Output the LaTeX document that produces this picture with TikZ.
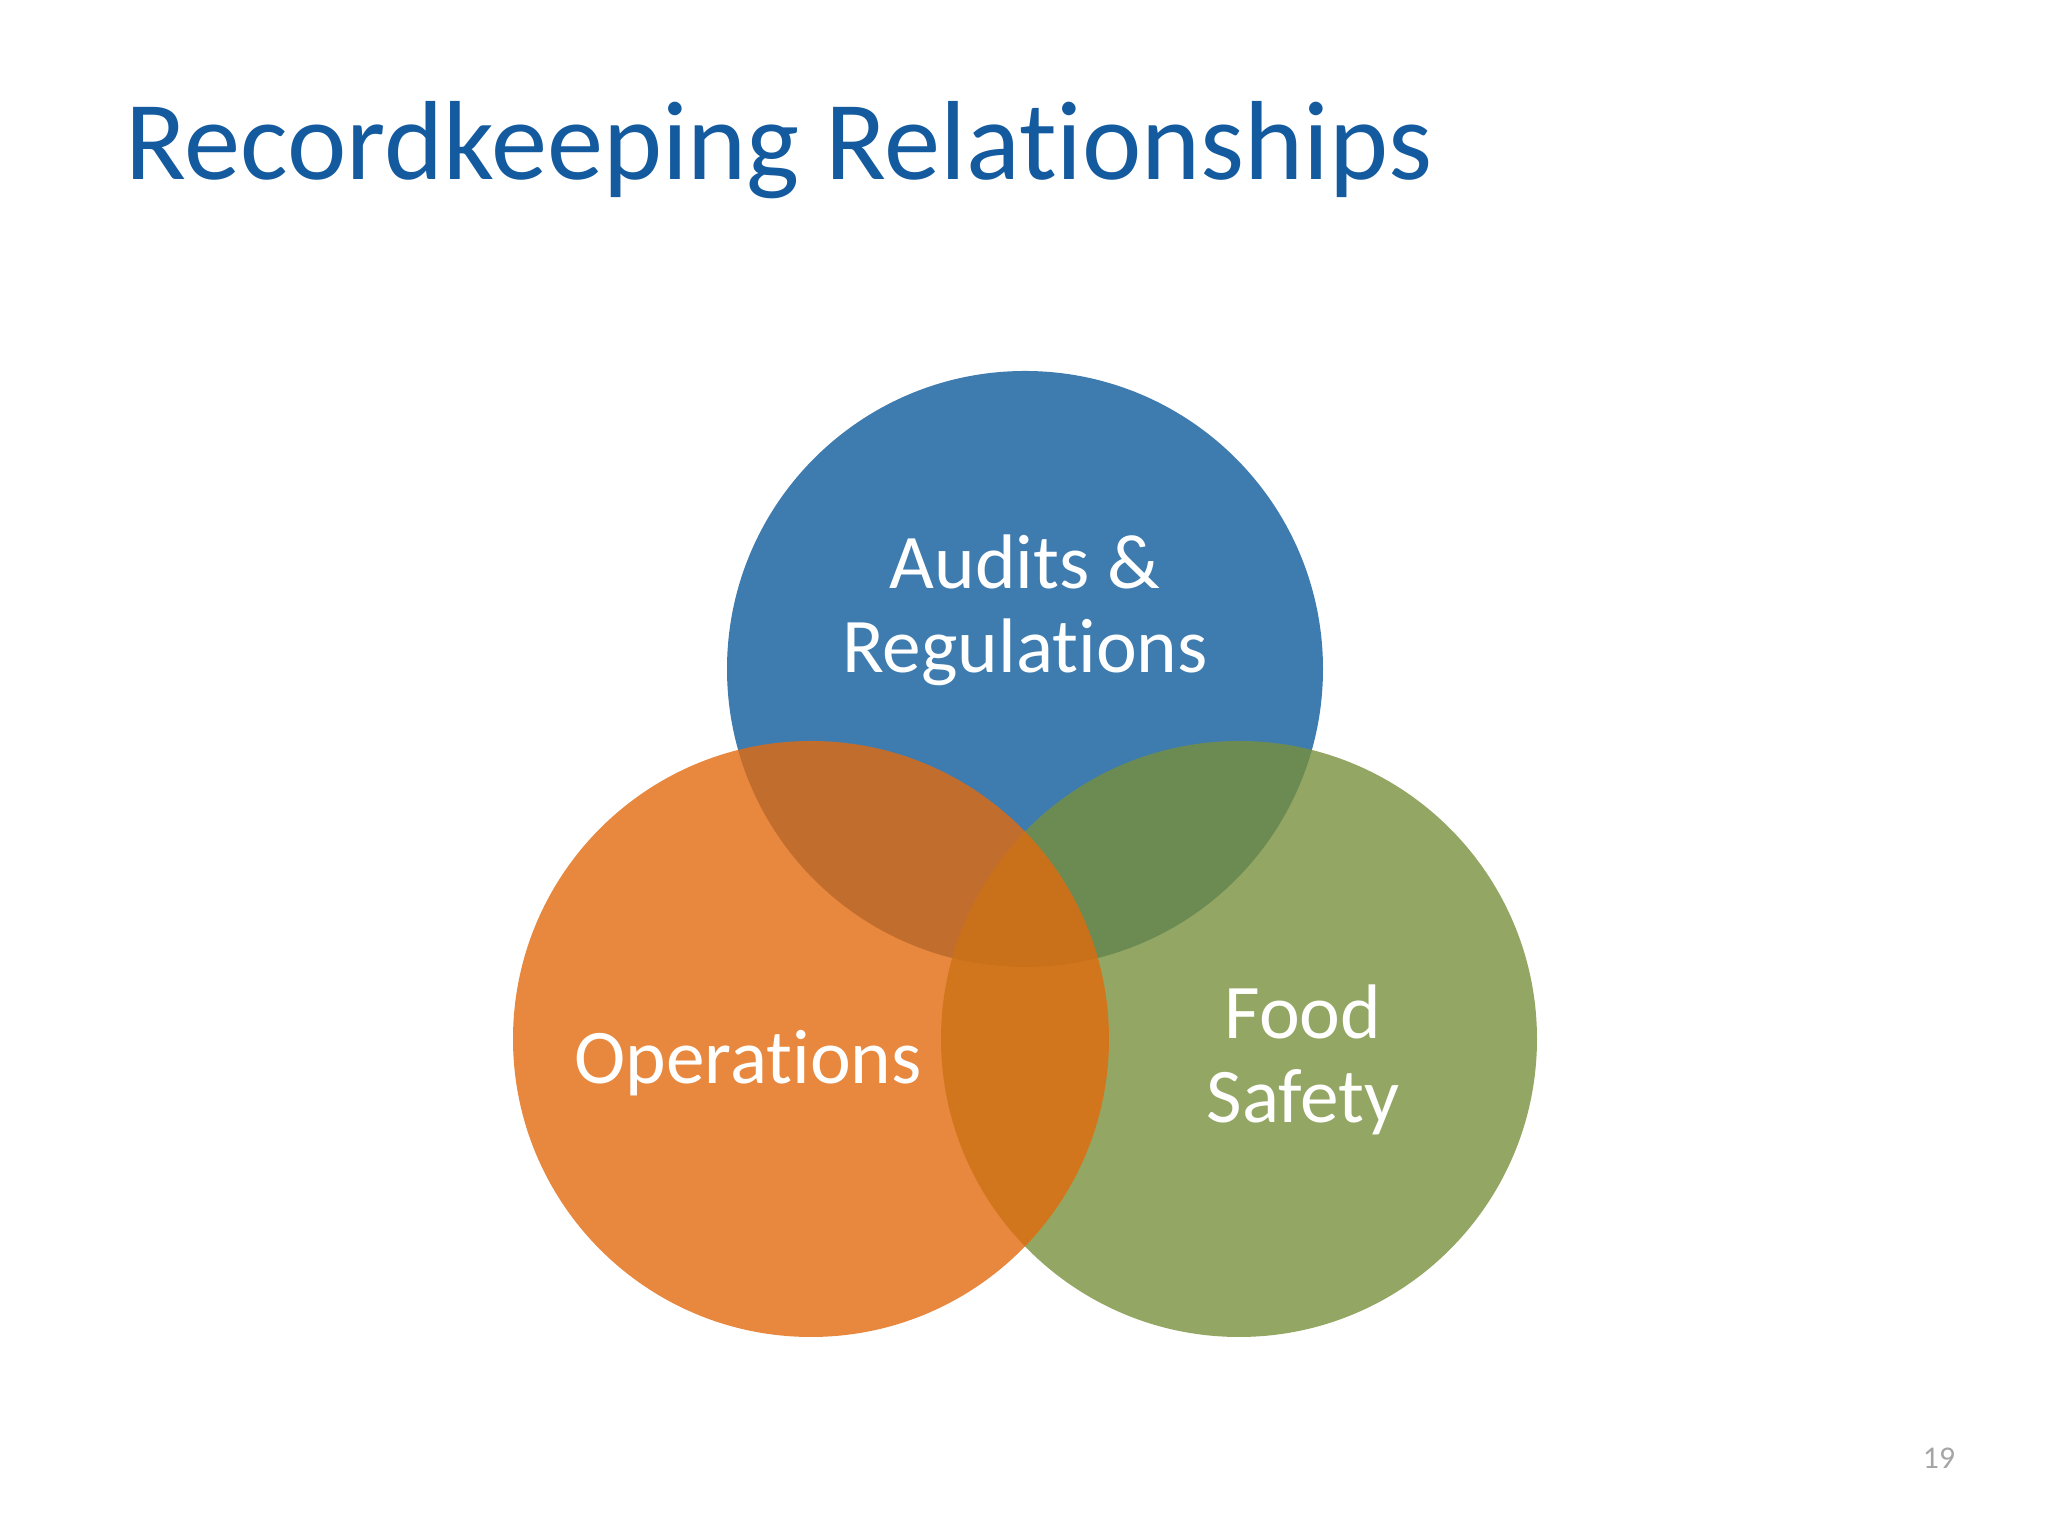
\documentclass[tikz,border=0pt]{standalone}
\usepackage{fontspec}
\setmainfont{Carlito}[Ligatures=NoCommon]

\definecolor{titleblue}{RGB}{20,90,158}
\definecolor{vblue}{RGB}{14,90,155}
\definecolor{vorange}{RGB}{226,106,14}
\definecolor{vgreen}{RGB}{120,144,60}
\definecolor{pagegray}{RGB}{165,165,165}

\begin{document}
\begin{tikzpicture}[
        C/.style = {circle, minimum size=5.96cm, inner sep=0pt,
                fill=#1, fill opacity=0.8},% circles of the venn diagram
        L/.style = {text=white, align=center, inner sep=0pt,
                font=\fontsize{22}{24}\selectfont},
    ]
    \useasboundingbox (0,0) rectangle (20.48,15.36);
    \node[anchor=base west, inner sep=0pt, text=titleblue,
          font=\fontsize{32}{38}\selectfont] (title) at (1.25,13.56) {Recordkeeping Relationships};
    % drawing order gives the overlaps
    \node[C=vblue]   (audit) at (10.25,8.67) {};
    \node[C=vgreen]  (food)  at (12.39,4.97) {};
    \node[C=vorange] (ops)   at (8.11,4.97) {};
    \node[L, anchor=base] (auditL) at (10.25,8.63) {Audits \&\\Regulations};
    \node[L, anchor=base] (opsL)   at (7.48,4.52)  {Operations};
    \node[L, anchor=base] (foodL)  at (13.03,4.13) {Food\\Safety};
    \node[anchor=base, inner sep=0pt, text=pagegray,
          font=\fontsize{9}{11}\selectfont] (page) at (19.39,0.67) {19};
\end{tikzpicture}
\end{document}
